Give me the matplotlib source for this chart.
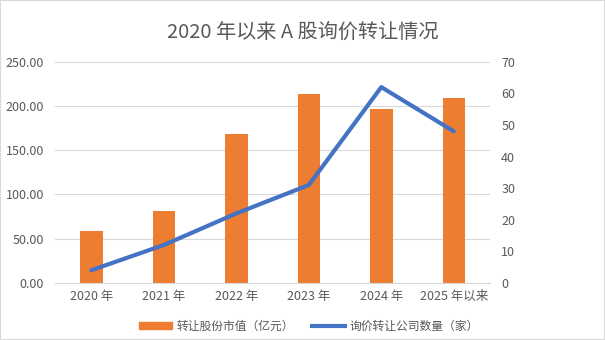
import matplotlib
matplotlib.use("Agg")
import matplotlib.pyplot as plt
from matplotlib.lines import Line2D
from matplotlib.patches import Patch, Rectangle
import numpy as np

plt.rcParams['font.family'] = ['Noto Sans CJK SC', 'DejaVu Sans']

# data
years = ['2020 年', '2021 年', '2022 年', '2023 年', '2024 年', '2025 年以来']
market_value = [59, 81.5, 168.5, 214, 197, 209]   # 转让股份市值（亿元）
company_count = [4, 12, 22, 31, 62, 48]          # 询价转让公司数量（家）

orange = '#ED7D31'
blue = '#4472C4'
text_grey = '#595959'
grid_grey = '#D9D9D9'

fig = plt.figure(figsize=(6.05, 3.4), dpi=100)
ax = fig.add_axes([0.091, 0.168, 0.719, 0.650])
ax2 = ax.twinx()

x = np.arange(len(years))
ax.bar(x, market_value, width=0.31, color=orange, zorder=2)
ax2.plot(x, company_count, color=blue, lw=3, solid_capstyle='round', zorder=3)

ax.set_xlim(-0.5, len(years) - 0.5)
ax.set_ylim(0, 250)
ax2.set_ylim(0, 70)
ax.set_yticks(np.arange(0, 251, 50))
ax.set_yticklabels([f'{v:.2f}' for v in np.arange(0, 251, 50)])
ax2.set_yticks(np.arange(0, 71, 10))
ax.set_xticks(x)
ax.set_xticklabels(years)

ax.grid(axis='y', color=grid_grey, lw=0.8, zorder=0)
for a in (ax, ax2):
    for s in a.spines.values():
        s.set_visible(False)
    a.tick_params(length=0, labelsize=9, colors=text_grey)
ax.spines['bottom'].set_visible(True)
ax.spines['bottom'].set_color(grid_grey)
ax.tick_params(axis='x', pad=5)
ax.tick_params(axis='y', pad=8)
ax2.tick_params(axis='y', pad=8)

fig.text(0.5, 0.905, '2020 年以来 A 股询价转让情况', ha='center', va='center',
         fontsize=14.5, color=text_grey)

handles = [Patch(color=orange), Line2D([0], [0], color=blue, lw=3)]
labels = ['转让股份市值（亿元）', '询价转让公司数量（家）']
fig.legend(handles, labels, loc='center', bbox_to_anchor=(0.51, 0.04), ncol=2,
           frameon=False, fontsize=8.5, labelcolor=text_grey,
           handlelength=2.8, handleheight=0.5, columnspacing=1.5, handletextpad=0.4)

fig.add_artist(Rectangle((0, 0), 1, 1, transform=fig.transFigure, fill=False,
                         edgecolor='#D9D9D9', lw=1.5))

fig.savefig('out.png', dpi=100, facecolor='white')
